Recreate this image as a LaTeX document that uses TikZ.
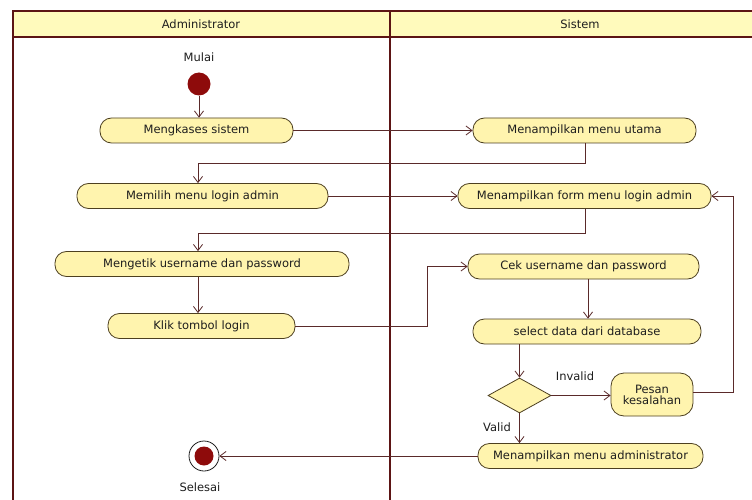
\documentclass[tikz,border=0pt]{standalone}
\usepackage{fontspec}
\setmainfont{DejaVu Sans}
\usetikzlibrary{arrows.meta,shapes.geometric}
\definecolor{laneline}{HTML}{5C1414}
\definecolor{headfill}{HTML}{FFFABC}
\definecolor{actfill}{HTML}{FFF4AE}
\definecolor{actdraw}{HTML}{4D4020}
\definecolor{flow}{HTML}{5A2A2A}
\definecolor{dot}{HTML}{8E0B0B}
\definecolor{ink}{HTML}{1E1E1E}
\tikzset{
  x=1pt, y=-1pt,
  lane/.style={draw=laneline, line width=2.2pt},
  act/.style={draw=actdraw, fill=actfill, line width=0.8pt, rectangle,
    rounded corners=11.5pt, minimum height=25pt, inner sep=1pt,
    text=ink, font=\fontsize{11.5}{13}\selectfont},
  choice/.style={draw=actdraw, fill=actfill, line width=0.8pt, diamond,
    minimum width=63pt, minimum height=35pt, inner sep=0pt},
  lbl/.style={text=ink, font=\fontsize{11.5}{13}\selectfont, inner sep=1pt},
  flowline/.style={draw=flow, line width=0.8pt,
    -{Straight Barb[length=6pt,width=9pt,line width=0.8pt]}},
}
\begin{document}
\begin{tikzpicture}
\useasboundingbox (0,0) rectangle (752,500);
\fill[white] (0,0) rectangle (752,500);

% swimlanes
\fill[headfill] (13,11) rectangle (752,37);
\draw[lane] (752,11) -- (13,11) -- (13,500);
\draw[lane] (13,37) -- (752,37);
\draw[lane] (390,11) -- (390,500);
\node[lbl] (hadmin) at (201,24) {Administrator};
\node[lbl] (hsys) at (580,24) {Sistem};

% start and end states
\node[lbl] (mulai) at (199,57) {Mulai};
\node[circle, fill=dot, minimum size=23pt, inner sep=0pt] (start) at (199,84) {};
\node[circle, draw=ink, fill=white, line width=0.8pt, minimum size=30pt, inner sep=0pt] (end) at (204,456) {};
\node[circle, fill=dot, minimum size=19pt, inner sep=0pt] (endcore) at (204,456) {};
\node[lbl] (selesai) at (200,487) {Selesai};

% activities: Administrator
\node[act, minimum width=193pt] (a1) at (196.5,130.5) {Mengkases sistem};
\node[act, minimum width=251pt] (a2) at (202.5,196) {Memilih menu login admin};
\node[act, minimum width=294pt] (a3) at (202,264) {Mengetik username dan password};
\node[act, minimum width=187pt] (a4) at (201.5,326) {Klik tombol login};

% activities: Sistem
\node[act, minimum width=223pt] (s1) at (584.5,130.5) {Menampilkan menu utama};
\node[act, minimum width=253pt] (s2) at (584.5,196) {Menampilkan form menu login admin};
\node[act, minimum width=231pt] (s3) at (583.5,266.5) {Cek username dan password};
\node[act, minimum width=228pt] (s4) at (587,331.5) {select data dari database};
\node[choice] (d) at (519.5,395.5) {};
\node[act, minimum width=82pt, minimum height=43pt, rounded corners=13pt, align=center] (s5) at (652,394.5) {Pesan\\[-2pt]kesalahan};
\node[act, minimum width=225pt] (s6) at (590.5,456) {Menampilkan menu administrator};

% routing points
\coordinate (r1) at (585,163);
\coordinate (r2) at (198,163);
\coordinate (r3) at (585,233);
\coordinate (r4) at (198,233);
\coordinate (r5) at (427,326);
\coordinate (r6) at (427,266.5);
\coordinate (r7) at (733,392);
\coordinate (r8) at (733,196);

% control flow
\draw[flowline] (start) -- (start |- a1.north);
\draw[flowline] (a1.east) -- (s1.west);
\draw[flowline] (s1.south -| r1) -- (r1) -- (r2) -- (r2 |- a2.north);
\draw[flowline] (a2.east) -- (s2.west);
\draw[flowline] (s2.south -| r3) -- (r3) -- (r4) -- (r4 |- a3.north);
\draw[flowline] (a3.south -| r4) -- (a4.north -| r4);
\draw[flowline] (a4.east) -- (r5) -- (r6) -- (s3.west);
\draw[flowline] (s3.south -| 588,0) -- (s4.north -| 588,0);
\draw[flowline] (s4.south -| d) -- (d.north);
\draw[flowline] (d.east) -- (s5.west |- d.east);
\draw[flowline] (s5.east |- r7) -- (r7) -- (r8) -- (s2.east);
\draw[flowline] (d.south) -- (s6.north -| d);
\draw[flowline] (s6.west) -- (end.east);

% guard labels
\node[lbl] (ginvalid) at (575,376) {Invalid};
\node[lbl] (gvalid) at (497,427) {Valid};
\end{tikzpicture}
\end{document}
